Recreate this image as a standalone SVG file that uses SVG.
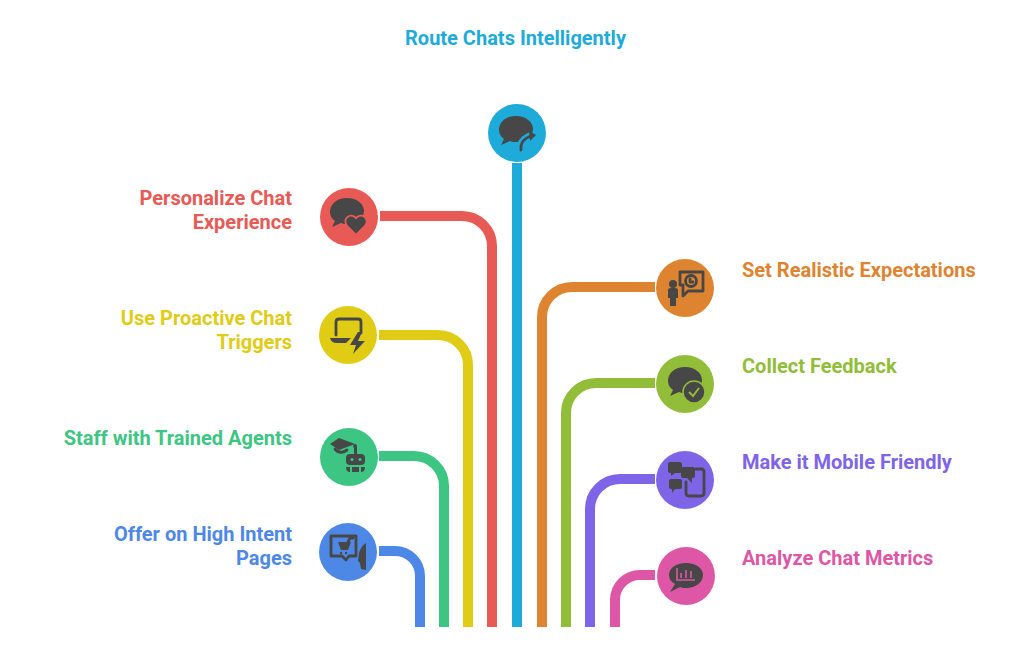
<svg xmlns="http://www.w3.org/2000/svg" width="1034" height="645" viewBox="0 0 1034 645">
<style>
.l{font-family:Roboto,"Liberation Sans",sans-serif;font-weight:700;font-size:20px}
.e{text-anchor:end}
.c{fill:none;stroke-width:10}
.i{fill:#474747}
.s{fill:none;stroke:#474747;stroke-width:2.800;stroke-linecap:round;stroke-linejoin:round}
</style>
<defs>
<path id="b" d="M0-15C-10-15-17-9-17-1C-17 3-15 6-12 8L-15 14L-6 10C-4 11-2 11 0 11C10 11 17 5 17-2C17-9 10-15 0-15Z"/>
</defs>
<rect width="1034" height="645" fill="#fff"/>
<g id="connectors">
<path class="c" stroke="#4e88e7" d="M379 551H395A25 25 0 0 1 420 576V627"/>
<path class="c" stroke="#3cc583" d="M379 456H414A30 30 0 0 1 444 486V627"/>
<path class="c" stroke="#e0cb15" d="M379 335H438A30 30 0 0 1 468 365V627"/>
<path class="c" stroke="#e75a55" d="M380 216H462A30 30 0 0 1 492 246V627"/>
<path class="c" stroke="#1eabda" d="M517 163V627"/>
<path class="c" stroke="#de8431" d="M655 287H572A30 30 0 0 0 542 317V627"/>
<path class="c" stroke="#92bd39" d="M655 383H596A30 30 0 0 0 566 413V627"/>
<path class="c" stroke="#7e65e7" d="M655 479H620A30 30 0 0 0 590 509V627"/>
<path class="c" stroke="#de57a6" d="M655 575H640A25 25 0 0 0 615 600V627"/>
</g>
<g id="n-route"><circle cx="517" cy="133" r="29" fill="#1eabda"/>
<use href="#b" x="516" y="131" class="i"/>
<path d="M521 150V146Q522 139 531 136" fill="none" stroke="#1eabda" stroke-width="8"/>
<path d="M521 150V146Q522 139 531 136" class="s" stroke-width="3"/><path d="M529 131L536 135L530 141Z" class="i"/>
<text class="l" x="515.500" y="45" text-anchor="middle" fill="#1eabda">Route Chats Intelligently</text></g>
<g id="n-personalize"><circle cx="349" cy="217" r="29" fill="#e75a55"/>
<use href="#b" x="347" y="213" class="i"/>
<path d="M356 235L347 226C342 219 350 212 356 218C362 212 370 219 365 226Z" class="i" stroke="#e75a55" stroke-width="2"/>
<text class="l e" x="292" y="205" fill="#e75a55">Personalize Chat</text><text class="l e" x="292" y="229" fill="#e75a55">Experience</text></g>
<g id="n-proactive"><circle cx="348" cy="335" r="29" fill="#e0cb15"/>
<path d="M336 335V322Q336 319 339 319H358Q361 319 361 322V333" class="s"/>
<path d="M330 338H351L346 343H337Q331 343 330 338Z" class="i"/>
<path d="M358 332L350 345H356L353 354L365 341H358L362 332Z" class="i"/>
<text class="l e" x="292" y="325" fill="#e0cb15">Use Proactive Chat</text><text class="l e" x="292" y="349" fill="#e0cb15">Triggers</text></g>
<g id="n-staff"><circle cx="349" cy="457" r="29" fill="#3cc583"/>
<path d="M339 438L355 444L339 450L330 444Z" class="i"/><path d="M335 449Q340 455 347 450" class="s"/>
<rect x="346" y="454" width="19" height="11" rx="4" class="i"/><rect x="354" y="447" width="3" height="8" class="i"/><circle cx="355" cy="446" r="2" class="i"/>
<path d="M346 467H350V472Q346 472 346 467ZM352 467H359V472H352ZM361 467H365Q365 472 361 472Z" class="i"/>
<circle cx="352" cy="459.500" r="1.500" fill="#3cc583"/><circle cx="360" cy="459.500" r="1.500" fill="#3cc583"/>
<text class="l e" x="292" y="445" fill="#3cc583">Staff with Trained Agents</text></g>
<g id="n-offer"><circle cx="348" cy="552" r="29" fill="#4e88e7"/>
<path d="M331 536H356V556H349L346 560L342 556H331Z" class="s"/>
<path d="M338 542H351L348 550H341Z" class="i"/><path d="M348 542L350 538H353" class="s" stroke-width="1.500"/><circle cx="341" cy="553" r="1.200" class="i"/><circle cx="346" cy="553" r="1.200" class="i"/>
<path d="M366 543V570L361 569L360 563L358 561L359 553Q361 546 366 543Z" class="i"/>
<text class="l e" x="292" y="541" fill="#4e88e7">Offer on High Intent</text><text class="l e" x="292" y="565" fill="#4e88e7">Pages</text></g>
<g id="n-expect"><circle cx="685" cy="288" r="29" fill="#de8431"/>
<circle cx="673" cy="284" r="4" class="i"/><path d="M668 290Q668 288 671 288H675Q678 288 678 290V298H676V306H670V298H668Z" class="i"/>
<path d="M680 272H703V291H688L683 296V285H680Z" class="s"/><circle cx="691" cy="281" r="5.500" class="s" stroke-width="2"/><path d="M690 279V282H693" class="s" stroke-width="1.200"/>
<text class="l" x="742" y="277" fill="#de8431">Set Realistic Expectations</text></g>
<g id="n-feedback"><circle cx="685" cy="384" r="29" fill="#92bd39"/>
<use href="#b" x="685" y="382" class="i"/>
<circle cx="694" cy="392" r="11" class="i" stroke="#92bd39" stroke-width="1.500"/><path d="M689 392L693 396L699 388" fill="none" stroke="#92bd39" stroke-width="2"/>
<text class="l" x="742" y="373" fill="#92bd39">Collect Feedback</text></g>
<g id="n-mobile"><circle cx="685" cy="480" r="29" fill="#7e65e7"/>
<path d="M696 469H701Q704 469 704 472V493Q704 496 701 496H689Q686 496 686 493V482" class="s"/>
<path d="M670 462H680Q682 462 682 464V471Q682 473 680 473H675L671 476V473Q668 473 668 471V464Q668 462 670 462Z" class="i"/><path d="M683 467H693Q695 467 695 469V476Q695 478 693 478H692V483L687 478H683Q681 478 681 476V469Q681 467 683 467Z" class="i"/><path d="M671 479H680Q682 479 682 481V487Q682 489 680 489H675L672 493V489Q669 489 669 487V481Q669 479 671 479Z" class="i"/>
<text class="l" x="742" y="469" fill="#7e65e7">Make it Mobile Friendly</text></g>
<g id="n-metrics"><circle cx="686" cy="576" r="29" fill="#de57a6"/>
<path d="M686 563C676 563 669 568 669 575C669 579 671 582 675 584L670 592L680 587C682 588 684 588 686 588C696 588 703 582 703 575C703 568 696 563 686 563Z" class="i"/>
<path d="M677 568V580H695M681 573V578M686 570V578M691 571V578" fill="none" stroke="#de57a6" stroke-width="1.600"/>
<text class="l" x="742" y="565" fill="#de57a6">Analyze Chat Metrics</text></g>
</svg>
